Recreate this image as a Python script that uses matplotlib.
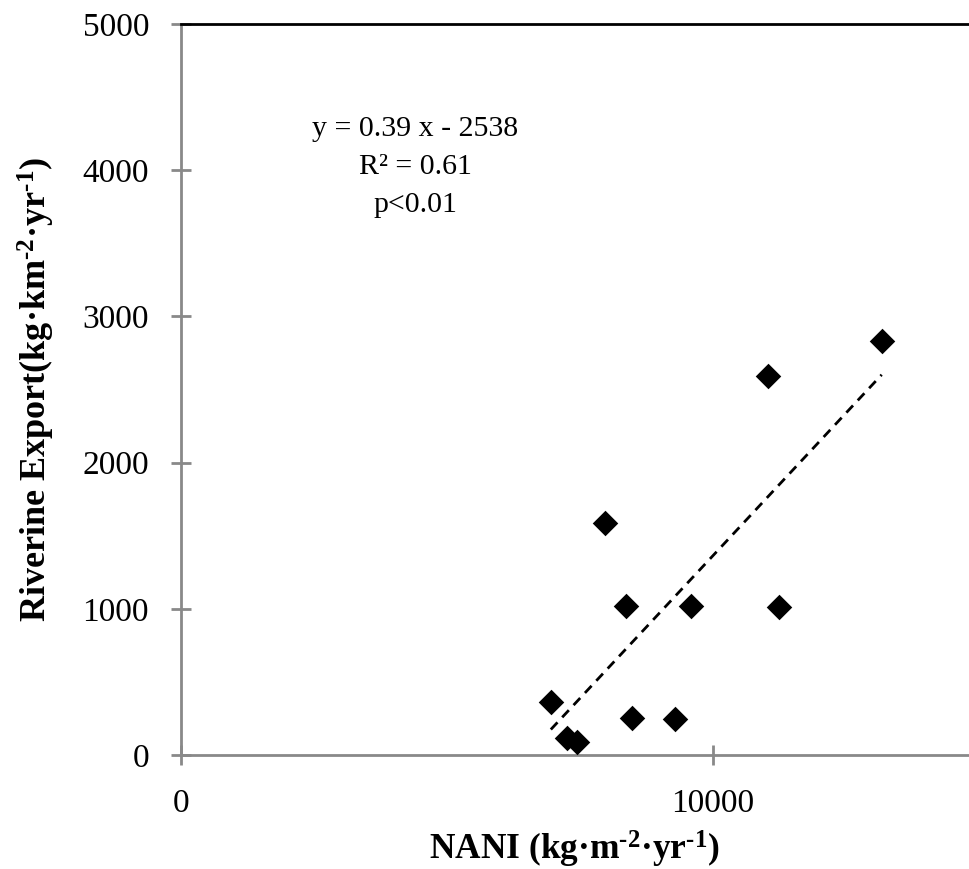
import matplotlib
matplotlib.use("Agg")
import matplotlib.pyplot as plt
import numpy as np

plt.rcParams['font.family'] = ['Liberation Serif', 'DejaVu Serif']
plt.rcParams['mathtext.fontset'] = 'custom'
plt.rcParams['mathtext.rm'] = 'Liberation Serif:bold'
plt.rcParams['mathtext.bf'] = 'Liberation Serif:bold'
plt.rcParams['mathtext.it'] = 'Liberation Serif:bold:italic'

# Data
nani = [6955, 7256, 7444, 7970, 8365, 8477, 9286, 9586, 11034, 11241, 13177]
export = [362, 116, 89, 1587, 1019, 253, 246, 1019, 2592, 1012, 2832]
slope = 0.39
intercept = -2538
annot = "y = 0.39 x - 2538\nR² = 0.61\np<0.01"
yticks = [0, 1000, 2000, 3000, 4000, 5000]
xticks = [0, 10000]

fig = plt.figure(figsize=(9.69, 8.69), dpi=100)
ax = fig.add_axes([181/969, 1-755/869, (968-181)/969, (755-24)/869])

ax.scatter(nani, export, marker='D', s=13**2, color='black', zorder=3, linewidths=0)
xs = np.array([min(nani), max(nani)])
ax.plot(xs, slope*xs + intercept, linestyle=(0, (3.5, 2.5)), color='black', lw=2, zorder=2)

ax.set_xlim(0, 14800)
ax.set_ylim(0, 5000)
ax.set_xticks(xticks)
ax.set_yticks(yticks)
ax.set_xticklabels([str(v) for v in xticks], fontsize=24)
ax.set_yticklabels([str(v) for v in yticks], fontsize=24)

gray = '#898989'
for side in ['left', 'bottom']:
    ax.spines[side].set_color(gray)
    ax.spines[side].set_linewidth(2)
ax.spines['right'].set_visible(False)
ax.spines['top'].set_color('black')
ax.spines['top'].set_linewidth(2)
ax.tick_params(axis='both', direction='inout', length=14, width=2, color=gray)
ax.tick_params(axis='y', pad=16)
ax.tick_params(axis='x', pad=17)

ax.set_xlabel(r'NANI (kg·m$^{\text{-2}}$·yr$^{\text{-1}}$)', fontsize=25.5, fontweight='bold', labelpad=7)
ax.set_ylabel(r'Riverine Export(kg·km$^{\text{-2}}$·yr$^{\text{-1}}$)', fontsize=26, fontweight='bold', labelpad=18)

ax.text(4400, 4020, annot, ha='center', va='center', fontsize=21.5, linespacing=1.6)

fig.savefig('out.png', dpi=100)
